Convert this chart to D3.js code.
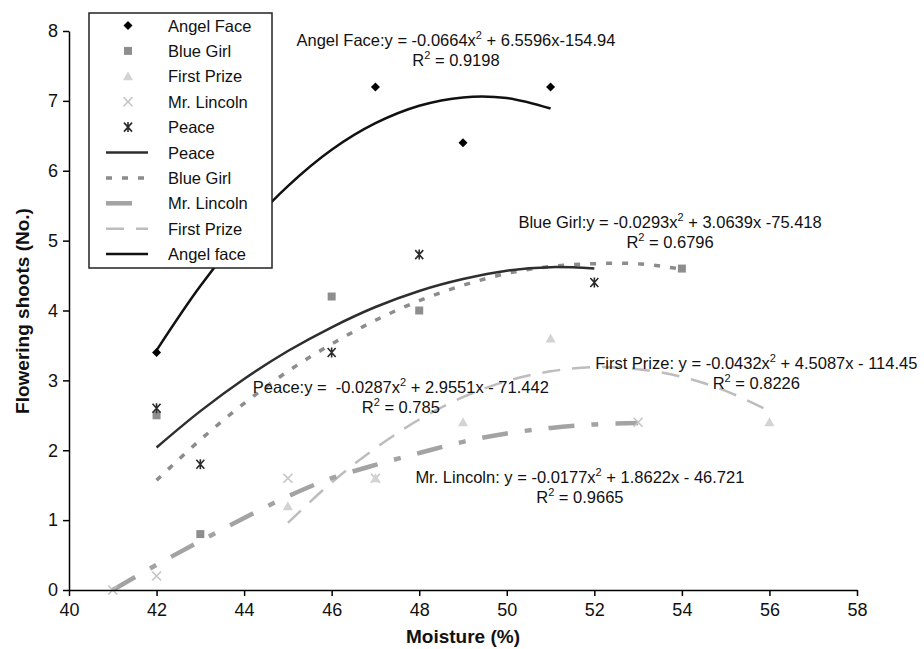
<!DOCTYPE html>
<html>
<head>
<meta charset="utf-8">
<script src="https://cdn.jsdelivr.net/npm/d3@7"></script>
<style>
body { margin: 0; background: #fff; }
text { font-family: "Liberation Sans", Arial, sans-serif; white-space: pre; }
</style>
</head>
<body>
<svg id="chart"></svg>
<script>
// scatter data (moisture %, flowering shoots)
const angelFaceX = [42, 47, 49, 51];
const angelFaceY = [3.4, 7.2, 6.4, 7.2];
const blueGirlX = [42, 43, 46, 48, 54];
const blueGirlY = [2.5, 0.8, 4.2, 4.0, 4.6];
const firstPrizeX = [45, 47, 49, 51, 56];
const firstPrizeY = [1.2, 1.6, 2.4, 3.6, 2.4];
const mrLincolnX = [41, 42, 45, 47, 53];
const mrLincolnY = [0, 0.2, 1.6, 1.6, 2.4];
const peaceX = [42, 43, 46, 48, 52];
const peaceY = [2.6, 1.8, 3.4, 4.8, 4.4];

// trend lines
const angelTrendX = [42, 43, 44, 45, 46, 47, 48, 49, 50, 51];
const angelTrendY = [3.43, 4.35, 5.13, 5.78, 6.30, 6.68, 6.93, 7.05, 7.04, 6.89];
const blueTrendX = [42, 43, 44, 45, 46, 47, 48, 49, 50, 51, 52, 53, 54];
const blueTrendY = [1.57, 2.15, 2.67, 3.13, 3.52, 3.86, 4.14, 4.36, 4.53, 4.63, 4.67, 4.67, 4.59];
const peaceTrendX = [42, 43, 44, 45, 46, 47, 48, 49, 50, 51, 52];
const peaceTrendY = [2.04, 2.56, 3.02, 3.42, 3.76, 4.05, 4.28, 4.45, 4.57, 4.62, 4.60];
const lincolnTrendX = [41, 42, 43, 44, 45, 46, 47, 48, 49, 50, 51, 52, 53];
const lincolnTrendY = [0, 0.36, 0.70, 1.03, 1.34, 1.60, 1.79, 1.96, 2.12, 2.24, 2.32, 2.37, 2.39];
const prizeTrendX = [45, 46, 47, 48, 49, 50, 51, 52, 53, 54, 55, 56];
const prizeTrendY = [0.96, 1.54, 2.03, 2.44, 2.76, 2.99, 3.13, 3.19, 3.16, 3.05, 2.85, 2.56];

const xTicks = [40, 42, 44, 46, 48, 50, 52, 54, 56, 58];
const yTicks = [0, 1, 2, 3, 4, 5, 6, 7, 8];

const legendLabels = ["Angel Face", "Blue Girl", "First Prize", "Mr. Lincoln", "Peace",
                      "Peace", "Blue Girl", "Mr. Lincoln", "First Prize", "Angel face"];

const eqLabels = [
    ["Angel Face:y = -0.0664x^2 + 6.5596x-154.94", "R^2 = 0.9198"],
    ["Blue Girl:y = -0.0293x^2 + 3.0639x -75.418", "R^2 = 0.6796"],
    ["First Prize: y = -0.0432x^2 + 4.5087x - 114.45", "R^2 = 0.8226"],
    ["Peace:y =  -0.0287x^2 + 2.9551x - 71.442", "R^2 = 0.785"],
    ["Mr. Lincoln: y = -0.0177x^2 + 1.8622x - 46.721", "R^2 = 0.9665"]
];
// label centres in data units
const eqCenterX = [48.84, 53.73, 55.7, 47.58, 51.67];
const eqCenterY = [7.87, 5.26, 3.25, 2.90, 1.62];

const W = 924, H = 649;
const svg = d3.select("#chart").attr("width", W).attr("height", H);

const x = d3.scaleLinear().domain([40, 58]).range([69, 857]);
const y = d3.scaleLinear().domain([0, 8]).range([590, 31]);

// trend lines
const lineFun = d3.line().x(d => x(d[0])).y(d => y(d[1])).curve(d3.curveCatmullRom);
const zip = (a, b) => a.map((v, i) => [v, b[i]]);

const trends = [
    {pts: zip(prizeTrendX, prizeTrendY), color: "#bdbdbd", w: 2.5, dash: "18,12"},
    {pts: zip(lincolnTrendX, lincolnTrendY), color: "#a3a3a3", w: 4.5, dash: "26,17,7,17"},
    {pts: zip(blueTrendX, blueTrendY), color: "#8c8c8c", w: 3.5, dash: "6,10"},
    {pts: zip(peaceTrendX, peaceTrendY), color: "#2e2e2e", w: 2.5, dash: null},
    {pts: zip(angelTrendX, angelTrendY), color: "#111", w: 2.5, dash: null}
];
svg.selectAll("path.trend")
    .data(trends)
    .enter()
    .append("path")
    .attr("class", "trend")
    .attr("d", d => lineFun(d.pts))
    .attr("fill", "none")
    .attr("stroke", d => d.color)
    .attr("stroke-width", d => d.w)
    .attr("stroke-dasharray", d => d.dash);

// marker shapes
function markerPath(kind) {
    if (kind === "diamond") return "M0,-4.5L4.5,0L0,4.5L-4.5,0Z";
    if (kind === "square") return "M-4,-4H4V4H-4Z";
    if (kind === "triangle") return "M0,-5L5,4H-5Z";
    if (kind === "x") return "M-4.5,-4.5L4.5,4.5M-4.5,4.5L4.5,-4.5";
    return "M-4,-4.5L4,4.5M-4,4.5L4,-4.5M0,-5V5";
}
const markerSets = [
    {xs: mrLincolnX, ys: mrLincolnY, kind: "x", fill: "none", stroke: "#c4c4c4"},
    {xs: firstPrizeX, ys: firstPrizeY, kind: "triangle", fill: "#d3d3d3", stroke: "none"},
    {xs: blueGirlX, ys: blueGirlY, kind: "square", fill: "#8e8e8e", stroke: "none"},
    {xs: peaceX, ys: peaceY, kind: "peace", fill: "none", stroke: "#2a2a2a"},
    {xs: angelFaceX, ys: angelFaceY, kind: "diamond", fill: "#000", stroke: "none"}
];
markerSets.forEach(s => {
    svg.append("g")
        .selectAll("path")
        .data(zip(s.xs, s.ys))
        .enter()
        .append("path")
        .attr("transform", d => `translate(${x(d[0])},${y(d[1])})`)
        .attr("d", markerPath(s.kind))
        .attr("fill", s.fill)
        .attr("stroke", s.stroke)
        .attr("stroke-width", 1.6);
});

// axes
const xAxis = svg.append("g")
    .attr("transform", `translate(0,${y(0)})`)
    .call(d3.axisBottom(x).tickValues(xTicks).tickSize(6).tickSizeOuter(0).tickPadding(7));
const yAxis = svg.append("g")
    .attr("transform", `translate(${x(40)},0)`)
    .call(d3.axisLeft(y).tickValues(yTicks).tickSize(6).tickSizeOuter(0).tickPadding(5));
[xAxis, yAxis].forEach(a => {
    a.selectAll("path, line").attr("stroke", "#000").attr("stroke-width", 1.5);
    a.selectAll("text")
        .attr("fill", "#111")
        .attr("font-size", "18px")
        .attr("font-family", "'Liberation Sans', Arial, sans-serif");
});

svg.append("text")
    .text("Moisture (%)")
    .attr("x", 463)
    .attr("y", 643)
    .attr("text-anchor", "middle")
    .attr("font-size", "19px")
    .attr("font-weight", "bold")
    .attr("fill", "#111");
svg.append("text")
    .text("Flowering shoots (No.)")
    .attr("transform", "translate(29,311) rotate(-90)")
    .attr("text-anchor", "middle")
    .attr("font-size", "19px")
    .attr("font-weight", "bold")
    .attr("fill", "#111");

// equation labels with superscript 2
function addRich(sel, str) {
    const parts = str.split("^2");
    parts.forEach((p, i) => {
        if (i > 0) {
            sel.append("tspan").text("2").attr("font-size", "11px").attr("dy", -7);
            sel.append("tspan").text(p).attr("dy", 7);
        } else {
            sel.append("tspan").text(p);
        }
    });
}
eqLabels.forEach((lines, i) => {
    lines.forEach((ln, j) => {
        const t = svg.append("text")
            .attr("x", x(eqCenterX[i]))
            .attr("y", y(eqCenterY[i]) + 6 + j * 20)
            .attr("text-anchor", "middle")
            .attr("font-size", "16.5px")
            .attr("fill", "#111");
        addRich(t, ln);
    });
});

// legend
const lg = svg.append("g");
lg.append("rect")
    .attr("x", 89).attr("y", 13)
    .attr("width", 183).attr("height", 255)
    .attr("fill", "#fff")
    .attr("stroke", "#222")
    .attr("stroke-width", 1.5);
const legendMarkers = [markerSets[4], markerSets[2], markerSets[1], markerSets[0], markerSets[3]];
const legendLines = [trends[3], trends[2], trends[1], trends[0], trends[4]];
legendLabels.forEach((lab, i) => {
    const cy = 25.5 + i * 25.4;
    if (i < 5) {
        const m = legendMarkers[i];
        lg.append("path")
            .attr("transform", `translate(128,${cy})`)
            .attr("d", markerPath(m.kind))
            .attr("fill", m.fill)
            .attr("stroke", m.stroke)
            .attr("stroke-width", 1.6);
    } else {
        const l = legendLines[i - 5];
        lg.append("line")
            .attr("x1", 106).attr("x2", 148)
            .attr("y1", cy).attr("y2", cy)
            .attr("stroke", l.color)
            .attr("stroke-width", l.w)
            .attr("stroke-dasharray", l.dash);
    }
    lg.append("text")
        .text(lab)
        .attr("x", 168)
        .attr("y", cy + 6)
        .attr("font-size", "16.5px")
        .attr("fill", "#111");
});
</script>
</body>
</html>
